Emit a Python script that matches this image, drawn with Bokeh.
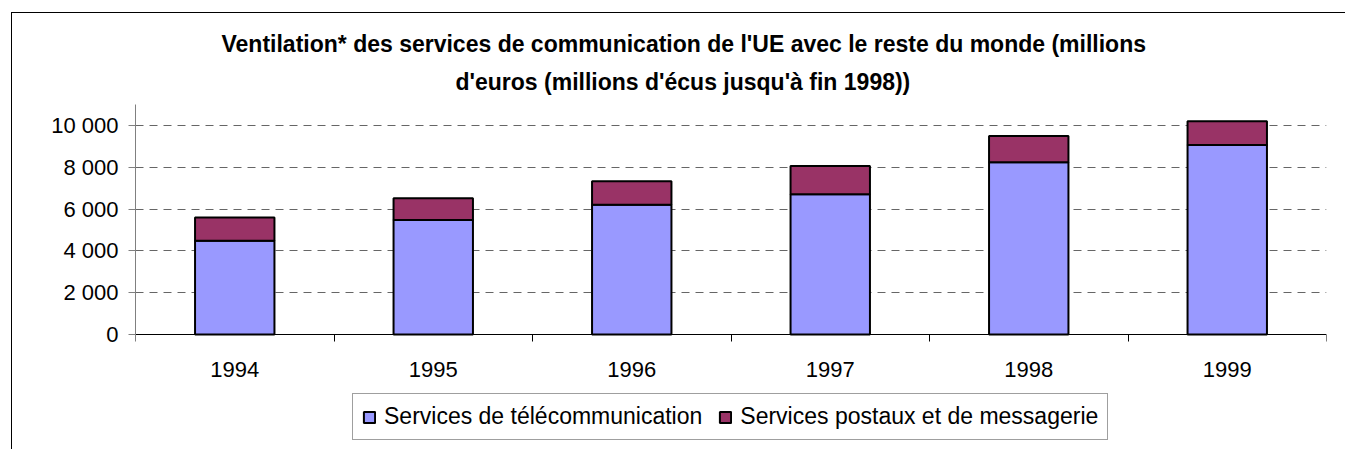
from bokeh.plotting import figure
from bokeh.models import FixedTicker, Legend, LegendItem, Range1d, ColumnDataSource, Title
from bokeh.embed import file_html
from bokeh.resources import INLINE

years = ["1994", "1995", "1996", "1997", "1998", "1999"]
telecom = [4480, 5480, 6200, 6710, 8240, 9060]
postal = [1120, 1040, 1130, 1350, 1250, 1140]
series_names = ["Services de télécommunication", "Services postaux et de messagerie"]
y_ticks = [0, 2000, 4000, 6000, 8000, 10000]
y_tick_labels = ["0", "2 000", "4 000", "6 000", "8 000", "10 000"]
title_lines = ["Ventilation* des services de communication de l'UE avec le reste du monde (millions",
               "d'euros (millions d'écus jusqu'à fin 1998))"]

FONT = "Liberation Sans"
x_pos = [i + 0.5 for i in range(len(years))]
source = ColumnDataSource(dict(x=x_pos, telecom=telecom, postal=postal))

# frame spans from the plot top down to the canvas bottom; value 0 sits 116 px above it
Y_MAX = 11000
y_min = -Y_MAX * 116 / 230

p = figure(width=1334, height=437, output_backend="svg", toolbar_location=None,
           x_range=Range1d(0, len(years)), y_range=Range1d(y_min, Y_MAX),
           min_border_left=123, min_border_right=20, min_border_top=91, min_border_bottom=0)
p.styles = {"margin-left": "11px", "margin-top": "12px",
            "border-left": "1px solid black", "border-top": "1px solid black"}
p.outline_line_color = None
p.background_fill_color = "white"
p.border_fill_color = "white"
p.title = None

rs = p.vbar_stack(["telecom", "postal"], x="x", width=0.4, source=source,
                  fill_color=["#9999FF", "#993366"], line_color="black", line_width=2)

# y axis
p.yaxis.ticker = FixedTicker(ticks=y_ticks)
p.yaxis.bounds = (0, Y_MAX)
p.yaxis.major_label_overrides = {t: l for t, l in zip(y_ticks, y_tick_labels)}
p.yaxis.axis_line_color = "#808080"
p.yaxis.major_tick_line_color = "#808080"
p.yaxis.major_tick_out = 7
p.yaxis.major_tick_in = 0
p.yaxis.minor_tick_line_color = None
p.yaxis.major_label_text_font = FONT
p.yaxis.major_label_text_font_size = "22px"
p.yaxis.major_label_text_color = "black"
p.yaxis.major_label_standoff = 10

# x axis, pinned at value 0
p.xaxis.fixed_location = 0
p.xaxis.ticker = FixedTicker(ticks=x_pos, minor_ticks=list(range(len(years) + 1)))
p.xaxis.major_label_overrides = {x: y for x, y in zip(x_pos, years)}
p.xaxis.axis_line_color = "black"
p.xaxis.major_tick_line_color = None
p.xaxis.major_tick_out = 0
p.xaxis.major_tick_in = 0
p.xaxis.minor_tick_line_color = "black"
p.xaxis.minor_tick_out = 7
p.xaxis.minor_tick_in = 0
p.xaxis.major_label_text_font = FONT
p.xaxis.major_label_text_font_size = "22px"
p.xaxis.major_label_text_color = "black"
p.xaxis.major_label_standoff = 20

p.xgrid.grid_line_color = None
p.ygrid.ticker = FixedTicker(ticks=y_ticks[1:])
p.ygrid.grid_line_color = "#666666"
p.ygrid.grid_line_dash = "8 6"
p.ygrid.grid_line_width = 1

legend = Legend(items=[LegendItem(label=series_names[i], renderers=[rs[i]]) for i in range(2)],
                orientation="horizontal", location=(217, 10),
                border_line_color="#404040", border_line_width=1,
                background_fill_color="white", background_fill_alpha=1,
                glyph_width=14, glyph_height=14, label_standoff=8, spacing=16,
                padding=9, margin=0,
                label_text_font=FONT, label_text_font_size="23px", label_text_color="black")
p.add_layout(legend)

# title lines: closest to the frame first
for line, sto, off, lh in [(title_lines[1], 20, 320, 0.9), (title_lines[0], 0, 86, 1.3)]:
    p.add_layout(Title(text=line, align="left", offset=off, standoff=sto,
                       text_font=FONT, text_font_size="23px", text_font_style="bold",
                       text_line_height=lh, text_color="black"), "above")

open("out.html", "w").write(file_html(p, INLINE))
